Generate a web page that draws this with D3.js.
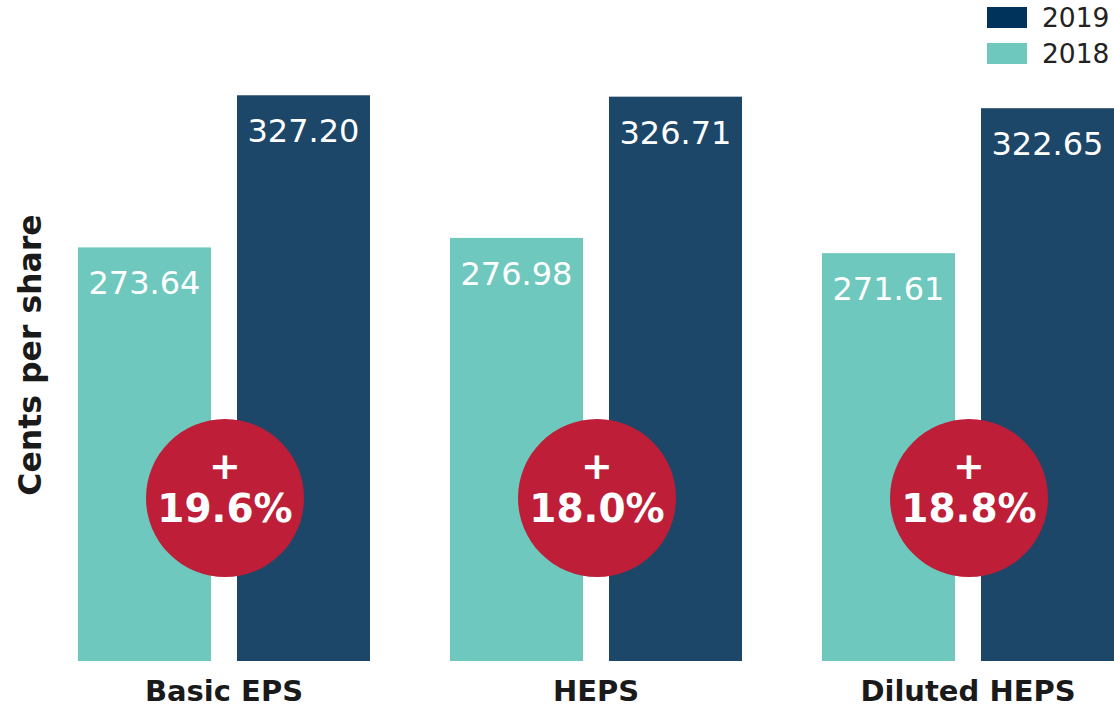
<!DOCTYPE html>
<html><head><meta charset="utf-8">
<script src="https://cdn.jsdelivr.net/npm/d3@7"></script>
<style>html,body{margin:0;padding:0;background:#fff;}svg{display:block;}</style>
</head><body>
<svg id="chart" width="1114" height="709"></svg>
<script>
const categories = ["Basic EPS", "HEPS", "Diluted HEPS"];
const seriesNames = ["2018", "2019"];
const values2018 = [273.64, 276.98, 271.61];
const values2019 = [327.20, 326.71, 322.65];
const growthLabels = ["19.6%", "18.0%", "18.8%"];
const legendNames = ["2019", "2018"];

const colors = {"2018": "#6ec8be", "2019": "#1d4769"};
const legendColors = {"2019": "#00335b", "2018": "#6ec8be"};
const font = "Verdana, 'DejaVu Sans', sans-serif";

const svg = d3.select("#chart");
const baseY = 661;

const x0 = d3.scaleBand().domain(categories).range([38, 1154]).paddingInner(0.215).paddingOuter(0.1075);
const x1 = d3.scaleBand().domain(seriesNames).range([0, x0.bandwidth()]).paddingInner(0.1635).paddingOuter(0);
const y = d3.scaleLinear().domain([128, 328]).range([baseY, 93]);

const data = categories.map((c, i) => ({cat: c, vals: [
  {s: "2018", v: values2018[i]}, {s: "2019", v: values2019[i]}], g: growthLabels[i]}));

const groups = svg.selectAll("g.grp").data(data).enter().append("g")
  .attr("transform", d => `translate(${x0(d.cat)},0)`);

groups.selectAll("rect").data(d => d.vals).enter().append("rect")
  .attr("x", d => x1(d.s)).attr("width", x1.bandwidth())
  .attr("y", d => y(d.v)).attr("height", d => baseY - y(d.v))
  .attr("fill", d => colors[d.s]);

groups.selectAll("text.val").data(d => d.vals).enter().append("text")
  .attr("class", "val")
  .attr("x", d => x1(d.s) + x1.bandwidth() / 2)
  .attr("y", d => y(d.v) + 47)
  .attr("text-anchor", "middle").attr("fill", "#fff")
  .attr("font-family", font).attr("font-size", 32)
  .text(d => d.v.toFixed(2));

// growth circles
const cx = x0.bandwidth() / 2 + 1;
groups.append("circle").attr("cx", cx).attr("cy", 498).attr("r", 79).attr("fill", "#be1e37");
groups.append("text").attr("x", cx).attr("y", 479).attr("text-anchor", "middle")
  .attr("fill", "#fff").attr("font-family", font).attr("font-weight", "bold").attr("font-size", 38)
  .text("+");
groups.append("text").attr("x", cx).attr("y", 522).attr("text-anchor", "middle")
  .attr("fill", "#fff").attr("font-family", font).attr("font-weight", "bold").attr("font-size", 39)
  .text(d => d.g);

// category axis labels
const xAxis = d3.axisBottom(x0).tickSize(0).tickPadding(0);
const ax = svg.append("g").attr("transform", `translate(0,${baseY})`).call(xAxis);
ax.select(".domain").remove();
ax.selectAll("text").attr("font-family", font).attr("font-weight", "bold").attr("font-size", 29)
  .attr("fill", "#1a1a1a").attr("dy", null).attr("y", 40);

// y title
svg.append("text").attr("transform", "translate(41,355) rotate(-90)")
  .attr("text-anchor", "middle").attr("font-family", font).attr("font-weight", "bold")
  .attr("font-size", 31.5).attr("fill", "#1a1a1a").text("Cents per share");

// legend
const lg = svg.selectAll("g.lg").data(legendNames).enter().append("g")
  .attr("transform", (d, i) => `translate(987,${7 + i * 36})`);
lg.append("rect").attr("width", 40).attr("height", 21).attr("fill", d => legendColors[d]);
lg.append("text").attr("x", 55).attr("y", 20).attr("font-family", font).attr("font-size", 26.5)
  .attr("fill", "#222").text(d => d);
</script>
</body></html>
